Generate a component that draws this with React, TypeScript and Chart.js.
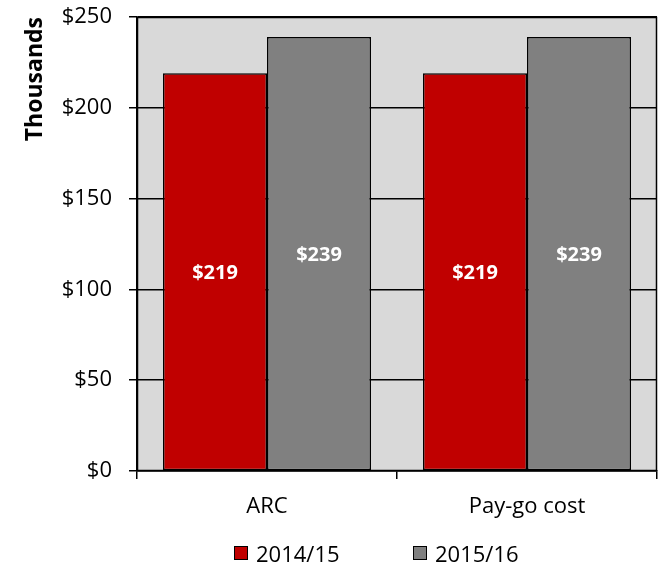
import React, { useEffect, useRef } from "react";
import { Chart, registerables } from "chart.js";

Chart.register(...registerables);

const categories = ["ARC", "Pay-go cost"];
const seriesNames = ["2014/15", "2015/16"];
const values2014 = [219, 219];
const values2015 = [239, 239];
const seriesColors = ["#C00000", "#808080"];
const yTicks = [0, 50, 100, 150, 200, 250];

const FONT = "'Open Sans', sans-serif";

const plotBg = {
  id: "plotBg",
  beforeDraw(chart: any) {
    const { ctx, chartArea } = chart;
    ctx.save();
    ctx.fillStyle = "#D9D9D9";
    ctx.fillRect(chartArea.left, chartArea.top, chartArea.right - chartArea.left, chartArea.bottom - chartArea.top);
    ctx.restore();
  },
  afterDraw(chart: any) {
    const { ctx, chartArea } = chart;
    ctx.save();
    ctx.strokeStyle = "#000";
    ctx.lineWidth = 1.5;
    ctx.strokeRect(
      Math.round(chartArea.left) + 0.5,
      Math.round(chartArea.top) + 0.5,
      Math.round(chartArea.right - chartArea.left) - 1,
      Math.round(chartArea.bottom - chartArea.top) - 1
    );
    ctx.restore();
  },
};

const barLabels = {
  id: "barLabels",
  afterDatasetsDraw(chart: any) {
    const { ctx } = chart;
    ctx.save();
    ctx.fillStyle = "#FFFFFF";
    ctx.font = `bold 20px ${FONT}`;
    ctx.textAlign = "center";
    ctx.textBaseline = "middle";
    chart.data.datasets.forEach((ds: any, di: number) => {
      const meta = chart.getDatasetMeta(di);
      meta.data.forEach((bar: any, i: number) => {
        const v = ds.data[i];
        ctx.fillText("$" + v, bar.x, (bar.y + bar.base) / 2 + 2);
      });
    });
    ctx.restore();
  },
};

export default function App() {
  const ref = useRef<HTMLCanvasElement>(null);
  useEffect(() => {
    const chart = new Chart(ref.current!, {
      type: "bar",
      data: {
        labels: categories,
        datasets: [
          {
            label: seriesNames[0],
            data: values2014,
            backgroundColor: seriesColors[0],
            borderColor: "#000",
            borderWidth: 1.5,
            borderSkipped: false,
          },
          {
            label: seriesNames[1],
            data: values2015,
            backgroundColor: seriesColors[1],
            borderColor: "#000",
            borderWidth: 1.5,
            borderSkipped: false,
          },
        ],
      },
      options: {
        animation: false,
        responsive: false,
        maintainAspectRatio: false,
        layout: { padding: { top: 17, right: 3, left: 0, bottom: 0 } },
        datasets: { bar: { categoryPercentage: 0.8, barPercentage: 1.0 } },
        plugins: {
          legend: { display: false },
          tooltip: { enabled: false },
        },
        scales: {
          x: {
            grid: {
              offset: true,
              drawOnChartArea: false,
              color: "#000",
              lineWidth: 1.5,
              tickLength: 8,
            },
            border: { color: "#000", width: 1.5 },
            ticks: {
              color: "#000",
              font: { family: FONT, size: 22 },
              padding: 15,
            },
            afterFit: (scale: any) => {
              scale.height = 98;
              scale.paddingLeft = 0;
              scale.paddingRight = 0;
            },
          },
          y: {
            min: 0,
            max: 250,
            afterBuildTicks: (scale: any) => {
              scale.ticks = yTicks.map((v) => ({ value: v }));
            },
            grid: { color: "#000", lineWidth: 1.5, tickLength: 8 },
            border: { color: "#000", width: 1.5 },
            ticks: {
              color: "#000",
              font: { family: FONT, size: 22 },
              padding: 17,
              callback: (v: any) => "$" + v,
            },
            title: {
              display: true,
              text: "Thousands",
              align: "end",
              color: "#000",
              font: { family: FONT, size: 23, weight: "bold" },
              padding: { top: 22, bottom: 0 },
            },
            afterFit: (scale: any) => {
              scale.width = 137;
              scale.paddingTop = 0;
              scale.paddingBottom = 0;
            },
          },
        },
      },
      plugins: [plotBg, barLabels],
    });
    return () => chart.destroy();
  }, []);

  const legendItem = (left: number, color: string, text: string) => (
    <div
      style={{
        position: "absolute",
        left,
        top: 539,
        display: "flex",
        alignItems: "center",
        fontFamily: FONT,
        fontSize: 22,
        lineHeight: "28px",
        color: "#000",
        whiteSpace: "nowrap",
      }}
    >
      <span
        style={{
          display: "inline-block",
          width: 12,
          height: 12,
          background: color,
          border: "1px solid #000",
          marginRight: 8,
        }}
      />
      <span>{text}</span>
    </div>
  );

  return (
    <div style={{ position: "absolute", left: 0, top: 0, width: 660, height: 569, background: "#fff" }}>
      <canvas ref={ref} width={660} height={569} style={{ display: "block", width: 660, height: 569 }} />
      {legendItem(234, seriesColors[0], seriesNames[0])}
      {legendItem(413, seriesColors[1], seriesNames[1])}
    </div>
  );
}
